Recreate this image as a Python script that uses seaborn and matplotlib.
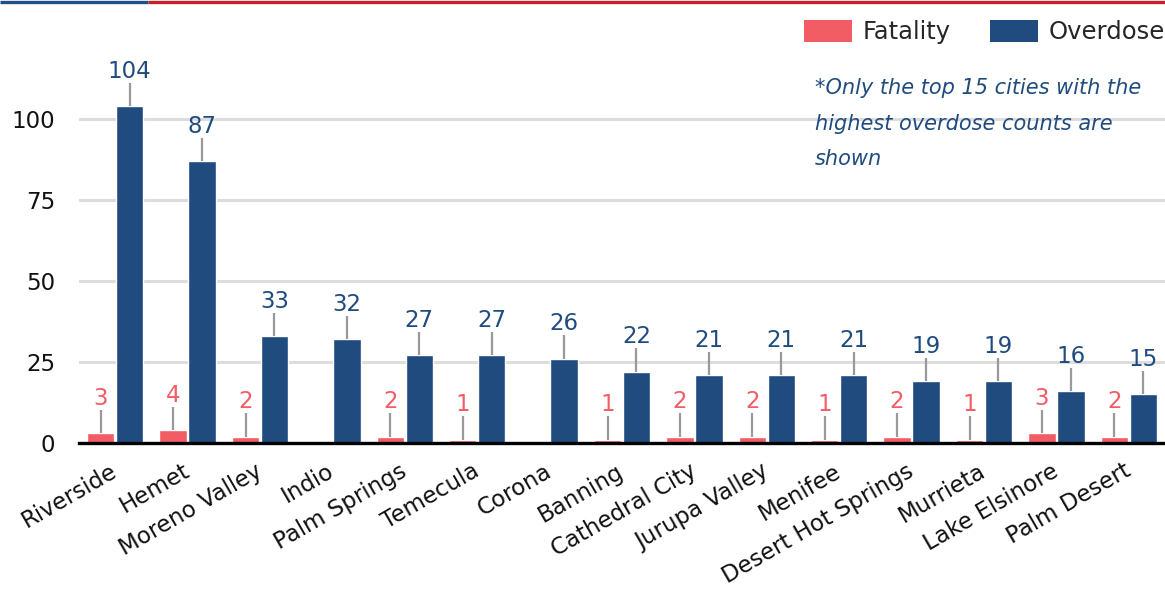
import numpy as np
import pandas as pd
import matplotlib
matplotlib.use("Agg")
import matplotlib.pyplot as plt
from matplotlib.patches import Patch
from matplotlib.lines import Line2D
import seaborn as sns

# ── Data ──────────────────────────────────────────────────────────────────────
CITIES = ["Riverside", "Hemet", "Moreno Valley", "Indio", "Palm Springs",
          "Temecula", "Corona", "Banning", "Cathedral City", "Jurupa Valley",
          "Menifee", "Desert Hot Springs", "Murrieta", "Lake Elsinore", "Palm Desert"]
OVERDOSE = [104, 87, 33, 32, 27, 27, 26, 22, 21, 21, 21, 19, 19, 16, 15]
FATALITY = [3, 4, 2, np.nan, 2, 1, np.nan, 1, 2, 2, 1, 2, 1, 3, 2]
SERIES = ["Fatality", "Overdose"]
Y_TICKS = [0, 25, 50, 75, 100]
NOTE = "*Only the top 15 cities with the\nhighest overdose counts are\nshown"

# ── Style ─────────────────────────────────────────────────────────────────────
RED = "#F25C64"
BLUE = "#1F4B7F"
LEADER = "#999999"
GRID = "#DDDDDD"
TOP_BLUE = "#1F4E8C"
TOP_RED = "#C4202A"
FS = 16.5

sns.set_style("white")
plt.rcParams["font.family"] = ["DejaVu Sans"]

df = pd.DataFrame({
    "city": CITIES * 2,
    "series": [SERIES[0]] * len(CITIES) + [SERIES[1]] * len(CITIES),
    "value": FATALITY + OVERDOSE,
})

fig = plt.figure(figsize=(11.65, 5.96), dpi=100)
ax = fig.add_axes([79 / 1165, 153 / 596, 1 - 79 / 1165, (443 - 54) / 596])

sns.barplot(data=df, x="city", y="value", hue="series", order=CITIES,
            hue_order=SERIES, palette=[RED, BLUE], width=0.8, gap=0.05,
            dodge=True, legend=False, ax=ax, saturation=1, zorder=3)

ax.set_xlim(-0.5, len(CITIES) - 0.5)
ax.set_ylim(0, 120)
ax.set_yticks(Y_TICKS)
ax.set_yticklabels([str(t) for t in Y_TICKS], fontsize=FS, color="#111111")
ax.yaxis.grid(True, color=GRID, lw=2.2, zorder=0)
ax.set_axisbelow(True)
ax.tick_params(axis="y", length=0, pad=17)
ax.tick_params(axis="x", length=0, pad=19)
ax.set_xlabel("")
ax.set_ylabel("")
for s in ["top", "right", "left"]:
    ax.spines[s].set_visible(False)
ax.spines["bottom"].set_color("black")
ax.spines["bottom"].set_linewidth(2.4)
ax.spines["bottom"].set_zorder(5)

ax.set_xticks(range(len(CITIES)))
ax.set_xticklabels(CITIES, rotation=30, ha="right", va="center",
                   rotation_mode="anchor", fontsize=FS, color="#111111")

# value labels with leader lines
offsets = [-0.2, 0.2]
for vals, off, col in [(FATALITY, offsets[0], RED), (OVERDOSE, offsets[1], BLUE)]:
    for i, v in enumerate(vals):
        if np.isnan(v):
            continue
        x = i + off
        ax.plot([x, x], [v, v + 7.2], color=LEADER, lw=1.6, zorder=4,
                solid_capstyle="butt")
        ax.text(x, v + 7.2, f"{int(v)}", ha="center", va="bottom",
                fontsize=FS, color=col, zorder=4)

# legend
handles = [Patch(facecolor=RED, edgecolor="none"),
           Patch(facecolor=BLUE, edgecolor="none")]
fig.legend(handles, SERIES, loc="upper right", bbox_to_anchor=(1.0, 1 - 20 / 596),
           ncol=2, frameon=False, fontsize=17.5, handlelength=1.98, handleheight=0.99,
           handletextpad=0.45, columnspacing=1.6, borderpad=0, borderaxespad=0)

# note
fig.text(815 / 1165, 1 - 78 / 596, NOTE, ha="left", va="top", fontsize=15,
         style="italic", color=BLUE, linespacing=1.97)

# top accent line
fig.add_artist(Line2D([0, 148 / 1165], [1 - 1.5 / 596] * 2, color=TOP_BLUE, lw=2.4,
                      transform=fig.transFigure, solid_capstyle="butt"))
fig.add_artist(Line2D([148 / 1165, 1], [1 - 1.5 / 596] * 2, color=TOP_RED, lw=2.4,
                      transform=fig.transFigure, solid_capstyle="butt"))

fig.savefig("out.png", dpi=100, facecolor="white")
